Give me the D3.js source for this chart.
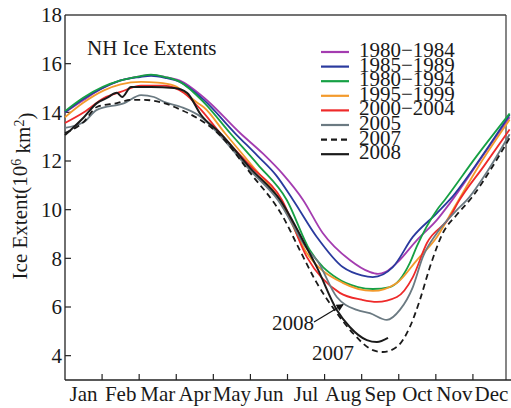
<!DOCTYPE html>
<html>
<head>
<meta charset="utf-8">
<script src="https://cdn.jsdelivr.net/npm/d3@7"></script>
<style>
  body { margin: 0; background: #fff; }
  text { font-family: "Liberation Serif", "Times New Roman", serif; fill: #1a1a1a; }
</style>
</head>
<body>
<svg id="chart" width="511" height="408"></svg>
<script>
// month index (0 = 1 Jan, 12 = 31 Dec) and extent in 10^6 km^2
var months = ["Jan", "Feb", "Mar", "Apr", "May", "Jun", "Jul", "Aug", "Sep", "Oct", "Nov", "Dec"];
var yTicks = [4, 6, 8, 10, 12, 14, 16, 18];

var s1980_84 = [[0,14.0],[0.49,14.5],[1.02,15.0],[1.48,15.3],[2.02,15.48],[2.32,15.54],[2.7,15.45],[3.1,15.3],[3.75,14.6],[4.72,13.15],[5.34,12.3],[5.88,11.45],[6.42,10.4],[6.95,9.04],[7.68,7.93],[8.2,7.45],[8.44,7.36],[8.65,7.45],[8.95,7.81],[9.49,8.75],[10.03,9.58],[10.38,10.27],[11.19,12.04],[11.99,13.8]];
var s1985_89 = [[0,14.0],[0.49,14.55],[1.02,15.0],[1.48,15.3],[2.02,15.45],[2.32,15.5],[2.7,15.42],[3.1,15.25],[3.75,14.5],[4.58,13.15],[5.2,12.2],[5.7,11.4],[6.15,10.4],[6.79,8.88],[7.49,7.64],[8.0,7.3],[8.3,7.23],[8.84,7.64],[9.38,8.88],[10.03,9.86],[10.4,10.45],[11.2,12.1],[11.99,13.9]];
var s1990_94 = [[0,14.05],[0.49,14.6],[1.02,15.05],[1.48,15.3],[2.02,15.48],[2.32,15.55],[2.7,15.45],[3.1,15.25],[3.75,14.4],[4.45,13.15],[5.2,11.85],[5.98,10.4],[6.6,8.34],[7.33,7.19],[7.9,6.82],[8.3,6.74],[8.76,6.82],[9.3,7.81],[9.49,8.5],[10.03,9.99],[10.24,10.4],[11.1,12.2],[11.99,13.95]];
var s1995_99 = [[0,13.8],[0.5,14.4],[1.05,14.9],[1.5,15.15],[2.05,15.25],[2.5,15.22],[2.94,15.1],[3.56,14.4],[3.75,14.2],[4.31,13.15],[5.05,11.8],[5.8,10.4],[6.52,8.22],[7.49,6.99],[8.3,6.66],[8.95,6.99],[9.49,7.93],[10.03,8.88],[10.5,10.1],[11.2,11.9],[11.99,13.7]];
var s2000_04 = [[0,13.56],[0.51,14.0],[1.05,14.59],[1.5,14.84],[2.05,15.1],[2.67,15.1],[3.2,14.8],[3.67,14.1],[4.18,13.15],[5.0,11.8],[5.85,10.4],[6.52,8.06],[7.41,6.58],[8.0,6.3],[8.41,6.21],[8.95,6.41],[9.38,7.23],[9.76,8.63],[10.38,9.7],[10.6,10.3],[11.3,11.8],[11.99,13.3]];
var s2005 = [[0,13.36],[0.51,13.6],[0.86,14.1],[1.6,14.38],[2.05,14.71],[2.4,14.63],[2.67,14.43],[3.13,14.22],[3.67,13.81],[4.12,13.15],[5.0,11.6],[5.74,10.4],[6.55,8.34],[6.79,7.93],[7.33,6.41],[7.87,5.88],[8.22,5.75],[8.68,5.47],[9.03,5.88],[9.38,6.82],[9.65,8.06],[10.03,9.04],[10.57,9.99],[10.84,10.4],[11.4,11.6],[11.99,13.1]];
var s2007 = [[0,13.15],[0.5,13.6],[0.86,14.22],[1.4,14.38],[1.78,14.51],[2.13,14.51],[2.67,14.38],[3.13,14.1],[3.56,13.77],[4.12,13.15],[5.0,11.5],[5.88,9.7],[6.33,8.34],[6.79,6.99],[7.33,5.75],[7.76,4.93],[8.3,4.23],[8.57,4.15],[8.95,4.36],[9.3,5.18],[9.57,6.29],[9.84,7.64],[10.19,9.04],[10.57,9.8],[10.97,10.5],[11.5,11.7],[11.99,12.95]];
var s2008 = [[0,13.07],[0.24,13.4],[0.51,13.8],[0.86,14.38],[1.13,14.59],[1.4,14.8],[1.54,14.63],[1.78,15.04],[2.32,15.04],[2.94,15.0],[3.29,14.8],[3.67,13.89],[4.18,13.15],[5.0,11.7],[5.8,10.4],[6.55,8.34],[6.79,7.64],[7.33,5.88],[7.68,5.18],[8.14,4.64],[8.41,4.56],[8.71,4.73]];

var seriesNames = ["1980\u22121984", "1985\u22121989", "1980\u22121994", "1995\u22121999", "2000\u22122004", "2005", "2007", "2008"];
var seriesData = [s1980_84, s1985_89, s1990_94, s1995_99, s2000_04, s2005, s2007, s2008];
var seriesColors = ["#a43cb0", "#2a3a9e", "#16a044", "#f39a2c", "#ee2a2a", "#6b7a82", "#1a1a1a", "#1a1a1a"];
var seriesDash = [null, null, null, null, null, null, "6,4", null];

var svg = d3.select("#chart");

var x = d3.scaleLinear().domain([0, 12]).range([65, 510]);
var y = d3.scaleLinear().domain([3, 18]).range([380, 15]);

// frame
svg.append("line").attr("x1", 65).attr("x2", 506).attr("y1", 15).attr("y2", 15)
  .attr("stroke", "#444").attr("stroke-width", 1.3);
svg.append("line").attr("x1", 506).attr("x2", 506).attr("y1", 15).attr("y2", 380)
  .attr("stroke", "#444").attr("stroke-width", 1.3);

// x axis
var xAxis = svg.append("g").attr("transform", "translate(0,380)");
xAxis.append("line").attr("x1", 65).attr("x2", 511).attr("stroke", "#222").attr("stroke-width", 1.3);
xAxis.selectAll("line.tick").data(d3.range(1, 12)).enter().append("line")
  .attr("class", "tick")
  .attr("x1", function(d) { return x(d); }).attr("x2", function(d) { return x(d); })
  .attr("y1", 0).attr("y2", -6)
  .attr("stroke", "#222").attr("stroke-width", 1.2);
xAxis.selectAll("text").data(months).enter().append("text")
  .attr("x", function(d, i) { return x(i + 0.5); })
  .attr("y", 21)
  .attr("text-anchor", "middle")
  .style("font-size", "21px")
  .text(function(d) { return d; });

// y axis
var yAxis = svg.append("g");
yAxis.append("line").attr("x1", 65).attr("x2", 65).attr("y1", 15).attr("y2", 380)
  .attr("stroke", "#222").attr("stroke-width", 1.3);
yAxis.selectAll("line.tick").data(yTicks.slice(0, -1)).enter().append("line")
  .attr("class", "tick")
  .attr("x1", 65).attr("x2", 71)
  .attr("y1", function(d) { return y(d); }).attr("y2", function(d) { return y(d); })
  .attr("stroke", "#222").attr("stroke-width", 1.2);
yAxis.selectAll("text").data(yTicks).enter().append("text")
  .attr("x", 62)
  .attr("y", function(d) { return y(d); })
  .attr("dy", "0.35em")
  .attr("text-anchor", "end")
  .style("font-size", "21px")
  .text(function(d) { return d; });

var ylab = svg.append("text")
  .attr("transform", "translate(27,196) rotate(-90)")
  .attr("text-anchor", "middle")
  .style("font-size", "21px");
ylab.append("tspan").text("Ice Extent(10");
ylab.append("tspan").attr("dy", "-0.45em").style("font-size", "14px").text("6");
ylab.append("tspan").attr("dy", "0.45em").text(" km");
ylab.append("tspan").attr("dy", "-0.45em").style("font-size", "14px").text("2");
ylab.append("tspan").attr("dy", "0.45em").text(")");

// title
svg.append("text").attr("x", 87).attr("y", 55).style("font-size", "21px").text("NH Ice Extents");

// lines
var line = d3.line()
  .x(function(d) { return x(d[0]); })
  .y(function(d) { return y(d[1]); })
  .curve(d3.curveMonotoneX);

svg.append("g").selectAll("path").data(seriesData).enter().append("path")
  .attr("d", line)
  .attr("fill", "none")
  .attr("stroke", function(d, i) { return seriesColors[i]; })
  .attr("stroke-width", function(d, i) { return i === 7 ? 2 : 1.8; })
  .attr("stroke-dasharray", function(d, i) { return seriesDash[i]; })
  .attr("stroke-linejoin", "round");

// legend
var legend = svg.append("g");
var rows = legend.selectAll("g").data(seriesNames).enter().append("g")
  .attr("transform", function(d, i) { return "translate(321," + (52 + i * 14.6) + ")"; });
rows.append("line")
  .attr("x1", 0).attr("x2", 28)
  .attr("stroke", function(d, i) { return seriesColors[i]; })
  .attr("stroke-width", 2.2)
  .attr("stroke-dasharray", function(d, i) { return seriesDash[i]; });
rows.append("text")
  .attr("x", 38).attr("y", 5)
  .style("font-size", "21px")
  .text(function(d) { return d; });

// annotations
svg.append("defs").append("marker")
  .attr("id", "arrow").attr("viewBox", "0 0 10 10")
  .attr("refX", 9).attr("refY", 5)
  .attr("markerWidth", 8).attr("markerHeight", 6)
  .attr("orient", "auto")
  .append("path").attr("d", "M0,0L10,5L0,10z").attr("fill", "#111");

svg.append("line")
  .attr("x1", 314).attr("y1", 322).attr("x2", x(7.5)).attr("y2", y(6.1))
  .attr("stroke", "#111").attr("stroke-width", 1.2)
  .attr("marker-end", "url(#arrow)");
svg.append("text").attr("x", 272).attr("y", 330).style("font-size", "21px").text("2008");
svg.append("text").attr("x", 312).attr("y", 360).style("font-size", "21px").text("2007");
</script>
</body>
</html>
